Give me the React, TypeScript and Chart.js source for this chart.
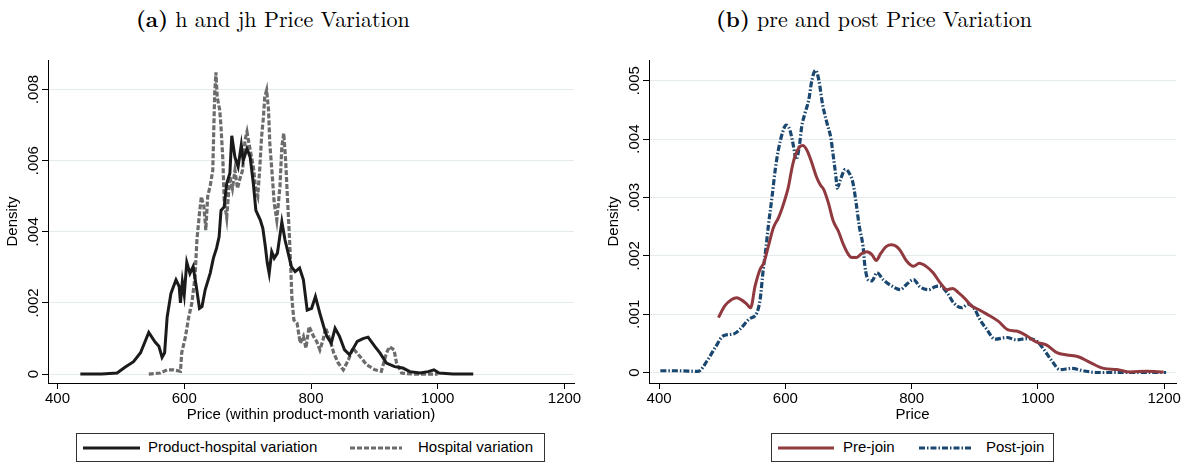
import React, { useEffect, useRef } from "react";
import { Chart, registerables } from "chart.js";

Chart.register(...registerables);

// ---------- Data ----------
const xTicks = [400, 600, 800, 1000, 1200];
const xTickLabels = ["400", "600", "800", "1000", "1200"];

const yTicksA = [0, 0.002, 0.004, 0.006, 0.008];
const yTickLabelsA = ["0", ".002", ".004", ".006", ".008"];
const yTicksB = [0, 0.001, 0.002, 0.003, 0.004, 0.005];
const yTickLabelsB = ["0", ".001", ".002", ".003", ".004", ".005"];

const productHospitalX = [436, 470, 494, 507, 520, 531, 544, 554, 560, 565, 569, 573, 579, 587, 592, 594, 597, 600, 604, 609, 614, 619, 624, 628, 633, 641, 646, 651, 655, 658, 663, 667, 672, 675, 680, 685, 690, 693, 699, 704, 709, 713, 720, 724, 728, 731, 734, 738, 742, 747, 754, 759, 764, 769, 775, 782, 788, 794, 801, 807, 814, 820, 825, 832, 838, 845, 853, 861, 873, 882, 890, 901, 909, 919, 932, 945, 956, 972, 985, 994, 1002, 1024, 1056];
const productHospitalY = [0, 0, 0.00003, 0.0002, 0.00035, 0.0006, 0.00117, 0.0009, 0.00078, 0.00047, 0.0006, 0.0016, 0.00227, 0.00265, 0.00246, 0.002, 0.0026, 0.00223, 0.00314, 0.00283, 0.00302, 0.00246, 0.00185, 0.0019, 0.00237, 0.00284, 0.00326, 0.00354, 0.00386, 0.0046, 0.0047, 0.00536, 0.00565, 0.0067, 0.0061, 0.00583, 0.00644, 0.006, 0.00634, 0.0061, 0.00536, 0.0046, 0.00433, 0.0041, 0.00358, 0.00312, 0.00283, 0.00344, 0.00326, 0.0034, 0.00428, 0.00377, 0.0034, 0.00302, 0.00288, 0.00298, 0.00265, 0.0018, 0.00185, 0.00218, 0.00171, 0.00134, 0.00106, 0.00087, 0.00129, 0.00106, 0.00068, 0.00054, 0.00092, 0.001, 0.00104, 0.00077, 0.00059, 0.00031, 0.00021, 0.00017, 0.00007, 0.00003, 0.00007, 0.00012, 0.00003, 0, 0];

const hospitalX = [544, 562, 573, 583, 594, 596, 602, 607, 612, 617, 620, 624, 627, 631, 634, 637, 641, 645, 648, 650, 652, 656, 658, 661, 663, 667, 670, 672, 676, 680, 684, 688, 692, 696, 699, 704, 709, 713, 716, 719, 722, 725, 727, 730, 733, 735, 739, 742, 746, 748, 751, 754, 757, 760, 763, 766, 768, 770, 773, 778, 783, 788, 792, 797, 804, 809, 814, 819, 823, 830, 836, 843, 851, 859, 866, 877, 888, 901, 911, 919, 924, 931, 935, 943, 961, 982, 1000];
const hospitalY = [0, 0.00003, 0.00012, 0.00012, 0.00008, 0.0006, 0.00106, 0.0016, 0.002, 0.00274, 0.00377, 0.00452, 0.00499, 0.0047, 0.00405, 0.005, 0.0053, 0.00573, 0.00789, 0.00848, 0.00779, 0.00742, 0.00695, 0.006, 0.0049, 0.0044, 0.0051, 0.00555, 0.00522, 0.00573, 0.00522, 0.0055, 0.00573, 0.00658, 0.00681, 0.0063, 0.00583, 0.00517, 0.005, 0.00573, 0.00667, 0.00723, 0.00779, 0.00798, 0.00742, 0.00648, 0.00555, 0.0048, 0.00433, 0.0047, 0.00527, 0.0064, 0.00677, 0.006, 0.0049, 0.00386, 0.00302, 0.00209, 0.00152, 0.00143, 0.00087, 0.00106, 0.00073, 0.00134, 0.00106, 0.00092, 0.00068, 0.00096, 0.0013, 0.00096, 0.00059, 0.00031, 0.00012, 0.0004, 0.00073, 0.0005, 0.00026, 0.00012, 0.00008, 0.00059, 0.00077, 0.00068, 0.00031, 0.00003, 0, 0, 0];

const preJoinX = [494, 504, 515, 523, 531, 539, 545, 552, 560, 566, 573, 581, 589, 594, 600, 605, 610, 615, 622, 628, 635, 642, 649, 655, 661, 668, 676, 684, 692, 700, 705, 713, 721, 729, 737, 744, 751, 760, 768, 776, 782, 792, 803, 812, 824, 834, 845, 856, 865, 874, 885, 895, 906, 919, 937, 953, 966, 982, 998, 1014, 1030, 1046, 1064, 1083, 1104, 1125, 1146, 1172, 1199];
const preJoinY = [0.00094, 0.00114, 0.00125, 0.00128, 0.00124, 0.00117, 0.00111, 0.00148, 0.00177, 0.00188, 0.00216, 0.00248, 0.00265, 0.00279, 0.00299, 0.00319, 0.00348, 0.0037, 0.00386, 0.00389, 0.00379, 0.00359, 0.00336, 0.00322, 0.00313, 0.00291, 0.00259, 0.00242, 0.00219, 0.00202, 0.00197, 0.00197, 0.00204, 0.00207, 0.00202, 0.00192, 0.00204, 0.00216, 0.00219, 0.00216, 0.00209, 0.00191, 0.00182, 0.00187, 0.00181, 0.00171, 0.00154, 0.00142, 0.00144, 0.00137, 0.00126, 0.00114, 0.00108, 0.001, 0.00088, 0.00073, 0.00071, 0.00063, 0.00052, 0.00047, 0.00034, 0.0003, 0.00027, 0.00017, 0.00007, 0.00005, 0.00001, 0.00002, 0.00001];

const postJoinX = [402, 430, 462, 476, 489, 502, 518, 528, 542, 555, 560, 565, 569, 573, 579, 584, 589, 596, 601, 607, 613, 617, 622, 626, 631, 637, 642, 648, 653, 659, 666, 672, 676, 680, 682, 688, 695, 701, 707, 712, 717, 723, 726, 731, 737, 745, 755, 769, 782, 792, 803, 813, 827, 837, 845, 856, 866, 879, 890, 900, 908, 919, 932, 951, 966, 982, 998, 1009, 1022, 1035, 1054, 1072, 1093, 1203];
const postJoinY = [0.00003, 0.00003, 0.00002, 0.0002, 0.00043, 0.00063, 0.00066, 0.00074, 0.00091, 0.00103, 0.00125, 0.00177, 0.00211, 0.00251, 0.00302, 0.00348, 0.00382, 0.00413, 0.00424, 0.00416, 0.00387, 0.00365, 0.00387, 0.00422, 0.00444, 0.00467, 0.00501, 0.00518, 0.00501, 0.00459, 0.00427, 0.00402, 0.0037, 0.00336, 0.00316, 0.00333, 0.00348, 0.00342, 0.00325, 0.00291, 0.00251, 0.00216, 0.00182, 0.00159, 0.00157, 0.00171, 0.00159, 0.00148, 0.00142, 0.00151, 0.00159, 0.00147, 0.00142, 0.00147, 0.00148, 0.00137, 0.0012, 0.00111, 0.00117, 0.00108, 0.00091, 0.00074, 0.00057, 0.0006, 0.00056, 0.00058, 0.00054, 0.0004, 0.0002, 0.00005, 0.00007, 0.00003, 0, 0];

// ---------- Styles ----------
const SANS = '"Liberation Sans", Arial, Helvetica, sans-serif';
const SERIF = '"Latin Modern Roman", "CMU Serif", "Liberation Serif", "DejaVu Serif", serif';
const FS = 15;
const GRID = "#e3ebee";
const C_BLACK = "#1b1b1b";
const C_GRAY = "#6c6c6c";
const C_RED = "#903a3f";
const C_NAVY = "#1a476f";

const toPoints = (xs: number[], ys: number[]) => xs.map((x, i) => ({ x, y: ys[i] }));

type PanelCfg = {
  datasets: any[];
  xMin: number;
  xMax: number;
  yMin: number;
  yMax: number;
  yTicks: number[];
  yLabels: string[];
  xTitle: string;
  yAxisWidth: number;
  padRight: number;
  yTitlePad: number;
};

function rotatedYLabels(values: number[], labels: string[]) {
  return {
    id: "rotatedYLabels",
    afterDraw(chart: any) {
      const s = chart.scales.y;
      const ctx = chart.ctx;
      ctx.save();
      ctx.font = `${FS}px ${SANS}`;
      ctx.fillStyle = "#000";
      ctx.textAlign = "center";
      ctx.textBaseline = "alphabetic";
      values.forEach((v, i) => {
        const y = s.getPixelForValue(v);
        ctx.save();
        ctx.translate(s.right - 10.5, y);
        ctx.rotate(-Math.PI / 2);
        ctx.fillText(labels[i], 0, 0);
        ctx.restore();
      });
      ctx.restore();
    },
  };
}

function Panel({ cfg, left }: { cfg: PanelCfg; left: number }) {
  const ref = useRef<HTMLCanvasElement | null>(null);
  useEffect(() => {
    if (!ref.current) return;
    const chart = new Chart(ref.current, {
      type: "line",
      data: { datasets: cfg.datasets },
      plugins: [rotatedYLabels(cfg.yTicks, cfg.yLabels)],
      options: {
        animation: false,
        responsive: false,
        maintainAspectRatio: false,
        layout: { padding: { top: 20, right: cfg.padRight, left: 0, bottom: 0 } },
        plugins: { legend: { display: false }, tooltip: { enabled: false } },
        elements: { point: { radius: 0 } },
        scales: {
          x: {
            type: "linear",
            min: cfg.xMin,
            max: cfg.xMax,
            afterBuildTicks: (s: any) => {
              s.ticks = xTicks.map((v) => ({ value: v }));
            },
            afterFit: (s: any) => {
              s.height = 47;
            },
            ticks: {
              autoSkip: false,
              maxRotation: 0,
              minRotation: 0,
              padding: 1,
              color: "#000",
              font: { family: SANS, size: FS },
              callback: (v: any) => {
                const i = xTicks.indexOf(Number(v));
                return i >= 0 ? xTickLabels[i] : "";
              },
            },
            grid: {
              drawOnChartArea: false,
              drawTicks: true,
              tickLength: 6,
              tickColor: "#000",
              lineWidth: 1,
            },
            border: { display: true, color: "#000", width: 1 },
            title: {
              display: true,
              text: cfg.xTitle,
              color: "#000",
              font: { family: SANS, size: FS },
              padding: { top: 0, bottom: 6 },
            },
          },
          y: {
            type: "linear",
            min: cfg.yMin,
            max: cfg.yMax,
            afterBuildTicks: (s: any) => {
              s.ticks = cfg.yTicks.map((v) => ({ value: v }));
            },
            afterFit: (s: any) => {
              s.width = cfg.yAxisWidth;
            },
            ticks: { display: false },
            grid: {
              color: GRID,
              lineWidth: 1,
              drawTicks: true,
              tickLength: 6,
              tickColor: "#000",
            },
            border: { display: true, color: "#000", width: 1 },
            title: {
              display: true,
              text: "Density",
              color: "#000",
              font: { family: SANS, size: FS },
              padding: { top: cfg.yTitlePad, bottom: 0 },
            },
          },
        },
      } as any,
    });
    return () => chart.destroy();
  }, [cfg]);
  return (
    <canvas
      ref={ref}
      width={594}
      height={390}
      style={{ position: "absolute", left, top: 40, width: 594, height: 390 }}
    />
  );
}

const cfgA: PanelCfg = {
  datasets: [
    {
      label: "Product-hospital variation",
      data: toPoints(productHospitalX, productHospitalY),
      borderColor: C_BLACK,
      borderWidth: 3,
      tension: 0,
      pointRadius: 0,
      fill: false,
    },
    {
      label: "Hospital variation",
      data: toPoints(hospitalX, hospitalY),
      borderColor: C_GRAY,
      borderWidth: 3.2,
      borderDash: [5, 2],
      tension: 0,
      pointRadius: 0,
      fill: false,
    },
  ],
  xMin: 385,
  xMax: 1215,
  yMin: -0.00025,
  yMax: 0.00883,
  yTicks: yTicksA,
  yLabels: yTickLabelsA,
  xTitle: "Price (within product-month variation)",
  yAxisWidth: 48,
  padRight: 20,
  yTitlePad: 4,
};

const cfgB: PanelCfg = {
  datasets: [
    {
      label: "Pre-join",
      data: toPoints(preJoinX, preJoinY),
      borderColor: C_RED,
      borderWidth: 3,
      cubicInterpolationMode: "monotone",
      pointRadius: 0,
      fill: false,
    },
    {
      label: "Post-join",
      data: toPoints(postJoinX, postJoinY),
      borderColor: C_NAVY,
      borderWidth: 3.2,
      borderDash: [6, 2, 1.5, 2],
      cubicInterpolationMode: "monotone",
      pointRadius: 0,
      fill: false,
    },
  ],
  xMin: 384,
  xMax: 1218.7,
  yMin: -0.00018,
  yMax: 0.005355,
  yTicks: yTicksB,
  yLabels: yTickLabelsB,
  xTitle: "Price",
  yAxisWidth: 55,
  padRight: 12,
  yTitlePad: 11,
};

function LegendLine({ color, dash, x, width }: { color: string; dash?: string; x: number; width: number }) {
  return (
    <svg
      width={width}
      height={8}
      style={{ position: "absolute", left: x, top: 10 }}
    >
      <line x1={0} y1={4} x2={width} y2={4} stroke={color} strokeWidth={3} strokeDasharray={dash} />
    </svg>
  );
}

function LegendText({ x, text }: { x: number; text: string }) {
  return (
    <span
      style={{
        position: "absolute",
        left: x,
        top: 4,
        fontFamily: SANS,
        fontSize: FS,
        lineHeight: "18px",
        color: "#000",
        whiteSpace: "nowrap",
      }}
    >
      {text}
    </span>
  );
}

const boxStyle = (left: number, width: number): React.CSSProperties => ({
  position: "absolute",
  left,
  top: 433,
  width,
  height: 29,
  border: "1px solid #333",
  boxSizing: "border-box",
  background: "#fff",
});

const titleStyle = (left: number): React.CSSProperties => ({
  position: "absolute",
  left,
  top: 4,
  fontFamily: SERIF,
  fontSize: 22,
  lineHeight: "28px",
  color: "#000",
  whiteSpace: "nowrap",
});

export default function App() {
  return (
    <div style={{ position: "absolute", left: 0, top: 0, width: 1188, height: 466, background: "#fff", overflow: "hidden" }}>
      <div style={titleStyle(136)}>
        <b>(a)</b> h and jh Price Variation
      </div>
      <div style={titleStyle(716)}>
        <b>(b)</b> pre and post Price Variation
      </div>
      <Panel cfg={cfgA} left={0} />
      <Panel cfg={cfgB} left={594} />
      <div style={boxStyle(76, 469)}>
        <LegendLine color={C_BLACK} x={6} width={57} />
        <LegendText x={71} text="Product-hospital variation" />
        <LegendLine color={C_GRAY} dash="5 2" x={273} width={52} />
        <LegendText x={341} text="Hospital variation" />
      </div>
      <div style={boxStyle(771, 283)}>
        <LegendLine color={C_RED} x={6} width={56} />
        <LegendText x={71} text="Pre-join" />
        <LegendLine color={C_NAVY} dash="6 2 1.5 2" x={147} width={54} />
        <LegendText x={214} text="Post-join" />
      </div>
    </div>
  );
}
